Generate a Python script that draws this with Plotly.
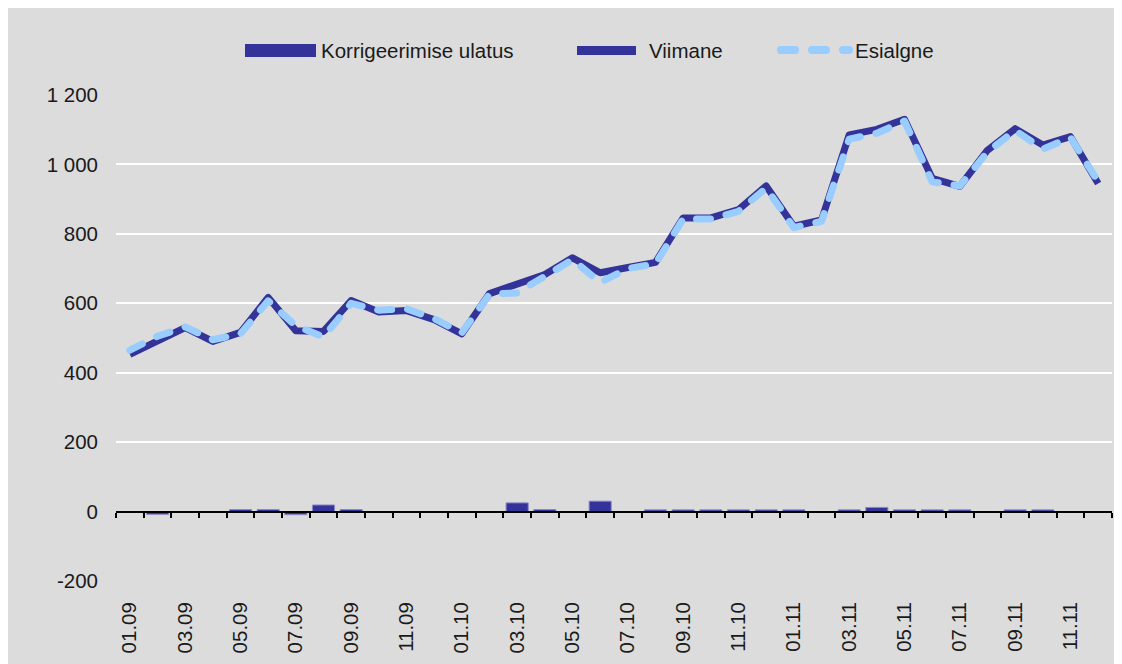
import plotly.graph_objects as go

months = ["01.09", "02.09", "03.09", "04.09", "05.09", "06.09", "07.09", "08.09", "09.09", "10.09", "11.09", "12.09",
          "01.10", "02.10", "03.10", "04.10", "05.10", "06.10", "07.10", "08.10", "09.10", "10.10", "11.10", "12.10",
          "01.11", "02.11", "03.11", "04.11", "05.11", "06.11", "07.11", "08.11", "09.11", "10.11", "11.11", "12.11"]

viimane = [453, 490, 530, 490, 516, 617, 521, 519, 608, 575, 579, 553,
           512, 628, 655, 683, 731, 688, 703, 718, 846, 846, 870, 938,
           822, 840, 1085, 1101, 1130, 960, 937, 1041, 1103, 1056, 1080, 945]

esialgne = [465, 505, 532, 495, 512, 607, 535, 503, 600, 580, 584, 556,
            515, 626, 630, 677, 726, 660, 700, 714, 843, 843, 865, 932,
            818, 836, 1073, 1090, 1125, 950, 938, 1036, 1098, 1044, 1078, 950]

korrigeerimine = [-1, -8, -1, -1, 6, 6, -9, 19, 6, -1, -1, -1,
                  -1, -1, 25, 6, -1, 30, -1, 5, 5, 5, 5, 5,
                  5, -1, 5, 12, 5, 5, 5, -1, 5, 5, -1, -1]

y_ticks = [-200, 0, 200, 400, 600, 800, 1000, 1200]
y_tick_labels = ["-200", "0", "200", "400", "600", "800", "1 000", "1 200"]

legend_names = ["Korrigeerimise ulatus", "Viimane", "Esialgne"]

DARK = "#333399"
LIGHT = "#99CCFF"
GREY = "#DCDCDC"
FONT = "Liberation Sans, Arial, sans-serif"
TXT = "#1a1a1a"
FS = 20.5

# page has an 8px body margin; all pixel positions below are in figure coordinates
OFF = 8
W, H = 1122 - OFF, 664 - OFF
L, R, T, B = 116 - OFF, 1112 - OFF, 95 - OFF, 581 - OFF


def px_x(p):
    return (p - OFF - L) / (R - L)


def px_y(p):
    return (B - (p - OFF)) / (B - T)


fig = go.Figure()

fig.add_trace(go.Scatter(x=months, y=viimane, mode="lines", name=legend_names[1],
                         line=dict(color=DARK, width=7), xaxis="x", yaxis="y"))
fig.add_trace(go.Scatter(x=months, y=esialgne, mode="lines", name=legend_names[2],
                         line=dict(color=LIGHT, width=7, dash="14px,16px"), xaxis="x", yaxis="y"))
fig.add_trace(go.Bar(x=months, y=korrigeerimine, name=legend_names[0],
                     marker=dict(color=DARK, line=dict(color="#8a8acc", width=1)),
                     xaxis="x2", yaxis="y"))

shapes = [
    # legend symbols (reference pixel coordinates)
    dict(type="rect", xref="paper", yref="paper", x0=px_x(245), x1=px_x(316), y0=px_y(57), y1=px_y(44),
         fillcolor=DARK, line=dict(width=0)),
    dict(type="line", xref="paper", yref="paper", x0=px_x(577), x1=px_x(636), y0=px_y(50.5), y1=px_y(50.5),
         line=dict(color=DARK, width=9)),
    dict(type="line", xref="paper", yref="paper", x0=px_x(781), x1=px_x(849), y0=px_y(50), y1=px_y(50),
         line=dict(color=LIGHT, width=8, dash="14px,17px")),
]

annotations = [
    dict(text=legend_names[0], x=px_x(319), y=px_y(50), xref="paper", yref="paper",
         xanchor="left", yanchor="middle", showarrow=False, font=dict(size=FS, color=TXT, family=FONT)),
    dict(text=legend_names[1], x=px_x(647), y=px_y(50), xref="paper", yref="paper",
         xanchor="left", yanchor="middle", showarrow=False, font=dict(size=FS, color=TXT, family=FONT)),
    dict(text=legend_names[2], x=px_x(853), y=px_y(50), xref="paper", yref="paper",
         xanchor="left", yanchor="middle", showarrow=False, font=dict(size=FS, color=TXT, family=FONT)),
]

zero_pos = (0 - y_ticks[0]) / (y_ticks[-1] - y_ticks[0])

fig.update_layout(
    width=W, height=H,
    margin=dict(l=L, r=W - R, t=T, b=H - B, pad=0),
    paper_bgcolor=GREY,
    plot_bgcolor=GREY,
    showlegend=False,
    bargap=0.2,
    font=dict(family=FONT, size=FS, color=TXT),
    shapes=shapes,
    annotations=annotations,
    xaxis=dict(type="category", categoryorder="array", categoryarray=months,
               range=[-0.5, len(months) - 0.5], tickmode="array", tickvals=months[::2], ticktext=months[::2],
               tickangle=-90, ticks="", showgrid=False, showline=False, zeroline=False,
               ticklabelstandoff=16, tickfont=dict(size=FS, color=TXT, family=FONT)),
    xaxis2=dict(type="category", categoryorder="array", categoryarray=months,
                range=[-0.5, len(months) - 0.5], overlaying="x", anchor="free", position=zero_pos,
                side="bottom", tickmode="array", tickvals=months, tickson="boundaries",
                ticks="outside", ticklen=5, tickwidth=1.5, tickcolor="black",
                showticklabels=False, showgrid=False, zeroline=False,
                showline=True, linecolor="black", linewidth=2),
    yaxis=dict(range=[y_ticks[0], y_ticks[-1]], tickmode="array", tickvals=y_ticks, ticktext=y_tick_labels,
               showgrid=True, gridcolor="white", gridwidth=2, zeroline=False, showline=False,
               ticks="", ticklabelstandoff=17, tickfont=dict(size=FS, color=TXT, family=FONT)),
)

post = """
var gd = document.getElementById('{plot_id}');
if (gd) {
  gd.querySelectorAll('.scatterlayer path.js-line, .shapelayer path').forEach(function(p){
    if ((p.getAttribute('style')||'').indexOf('153, 204, 255') >= 0) {
      p.style.strokeLinecap = 'round';
    }
    p.style.strokeLinejoin = 'round';
  });
}
"""

fig.write_html("out.html", post_script=post)
